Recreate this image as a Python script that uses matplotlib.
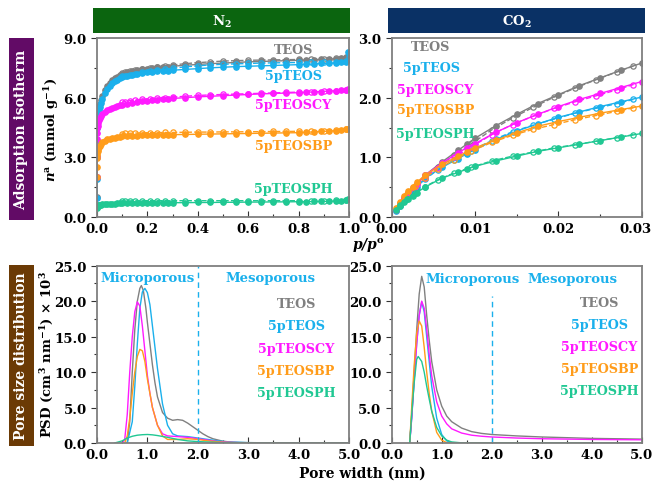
import matplotlib
matplotlib.use("Agg")
import matplotlib.pyplot as plt
from matplotlib.patches import Rectangle
from matplotlib.ticker import MultipleLocator, FormatStrFormatter, FuncFormatter

plt.rcParams['font.family'] = 'DejaVu Serif'
plt.rcParams['font.weight'] = 'bold'
plt.rcParams['mathtext.fontset'] = 'dejavuserif'

names = ['TEOS', '5pTEOS', '5pTEOSCY', '5pTEOSBP', '5pTEOSPH']
colors = ['#808080', '#1ab0ec', '#ff1aff', '#ff9c1a', '#20c893']

# ---- N2 isotherms (77 K) ----
n2_p_ads = [0.00001, 0.00003, 0.0001, 0.0003, 0.001, 0.002, 0.004, 0.007, 0.01, 0.015,
            0.02, 0.03, 0.04, 0.05, 0.06, 0.07, 0.08, 0.09, 0.10, 0.12,
            0.14, 0.16, 0.18, 0.20, 0.22, 0.24, 0.26, 0.28, 0.30, 0.35,
            0.40, 0.45, 0.50, 0.55, 0.60, 0.65, 0.70, 0.75, 0.80, 0.83,
            0.86, 0.89, 0.92, 0.95, 0.97, 0.99, 0.995]
n2_ads = {
    'TEOS': [1.0, 2.0, 3.0, 3.8, 4.6, 5.0, 5.3, 5.55, 5.7, 5.9, 6.1, 6.4, 6.6, 6.75, 6.87,
             6.97, 7.05, 7.12, 7.18, 7.27, 7.34, 7.39, 7.43, 7.46, 7.49, 7.52, 7.54, 7.56,
             7.58, 7.63, 7.67, 7.71, 7.74, 7.77, 7.8, 7.82, 7.84, 7.86, 7.88, 7.9, 7.91,
             7.92, 7.94, 7.96, 7.98, 8.0, 8.08],
    '5pTEOS': [0.95, 1.9, 3.0, 3.7, 4.5, 4.9, 5.2, 5.4, 5.55, 5.75, 5.95, 6.25, 6.45, 6.6,
               6.72, 6.82, 6.9, 6.97, 7.03, 7.1, 7.16, 7.2, 7.24, 7.27, 7.3, 7.32, 7.34, 7.36,
               7.38, 7.42, 7.46, 7.5, 7.53, 7.56, 7.58, 7.6, 7.62, 7.64, 7.66, 7.68, 7.7,
               7.72, 7.73, 7.75, 7.77, 7.8, 8.3],
    '5pTEOSCY': [2.0, 3.0, 3.9, 4.2, 4.45, 4.6, 4.75, 4.9, 5.0, 5.1, 5.18, 5.3, 5.38, 5.44,
                 5.5, 5.54, 5.58, 5.62, 5.65, 5.7, 5.74, 5.78, 5.81, 5.84, 5.87, 5.9, 5.92,
                 5.94, 5.96, 6.0, 6.04, 6.07, 6.1, 6.13, 6.16, 6.19, 6.21, 6.23, 6.25, 6.27,
                 6.29, 6.31, 6.33, 6.35, 6.37, 6.4, 6.43],
    '5pTEOSBP': [2.0, 2.5, 2.97, 3.1, 3.2, 3.3, 3.4, 3.5, 3.58, 3.68, 3.75, 3.84, 3.9, 3.94,
                 3.97, 3.99, 4.01, 4.03, 4.05, 4.07, 4.08, 4.09, 4.1, 4.11, 4.12, 4.12, 4.13,
                 4.13, 4.14, 4.15, 4.16, 4.17, 4.18, 4.19, 4.2, 4.21, 4.22, 4.23, 4.24, 4.26,
                 4.28, 4.3, 4.32, 4.34, 4.36, 4.4, 4.43],
    '5pTEOSPH': [0.45, 0.5, 0.5, 0.52, 0.54, 0.56, 0.58, 0.6, 0.61, 0.62, 0.63, 0.64, 0.65,
                 0.66, 0.67, 0.67, 0.68, 0.68, 0.68, 0.69, 0.69, 0.7, 0.7, 0.7, 0.71, 0.71,
                 0.71, 0.72, 0.72, 0.72, 0.73, 0.73, 0.74, 0.74, 0.75, 0.75, 0.76, 0.76, 0.77,
                 0.77, 0.78, 0.78, 0.79, 0.8, 0.81, 0.84, 0.88],
}
n2_p_des = [0.99, 0.95, 0.90, 0.85, 0.80, 0.75, 0.70, 0.65, 0.60, 0.55, 0.50, 0.45,
            0.40, 0.35, 0.30, 0.27, 0.24, 0.21, 0.18, 0.15, 0.13, 0.11, 0.10]
n2_des = {
    'TEOS': [8.02, 7.98, 7.95, 7.93, 7.92, 7.91, 7.9, 7.89, 7.88, 7.86, 7.84, 7.8, 7.76,
             7.71, 7.64, 7.6, 7.55, 7.5, 7.45, 7.38, 7.33, 7.27, 7.23],
    '5pTEOS': [7.82, 7.8, 7.79, 7.78, 7.77, 7.76, 7.75, 7.74, 7.72, 7.7, 7.68, 7.65, 7.6,
               7.55, 7.48, 7.44, 7.39, 7.34, 7.28, 7.2, 7.15, 7.1, 7.07],
    '5pTEOSCY': [6.4, 6.35, 6.32, 6.3, 6.28, 6.26, 6.24, 6.22, 6.2, 6.18, 6.16, 6.14, 6.11,
                 6.07, 6.03, 6.0, 5.98, 5.95, 5.92, 5.88, 5.85, 5.8, 5.78],
    '5pTEOSBP': [4.4, 4.36, 4.33, 4.32, 4.31, 4.3, 4.3, 4.29, 4.29, 4.28, 4.28, 4.27, 4.27,
                 4.26, 4.25, 4.25, 4.24, 4.24, 4.23, 4.22, 4.21, 4.2, 4.19],
    '5pTEOSPH': [0.85, 0.83, 0.82, 0.82, 0.82, 0.82, 0.82, 0.82, 0.82, 0.82, 0.82, 0.82,
                 0.82, 0.82, 0.82, 0.82, 0.82, 0.82, 0.82, 0.81, 0.81, 0.81, 0.8],
}

# ---- CO2 isotherms (273 K) ----
co2_p_ads = [0.0005, 0.001, 0.0015, 0.002, 0.0025, 0.003, 0.004, 0.006, 0.008, 0.009,
             0.010, 0.0125, 0.015, 0.0175, 0.020, 0.0225, 0.025, 0.0275, 0.030]
co2_ads = {
    'TEOS': [0.12, 0.22, 0.32, 0.40, 0.48, 0.55, 0.70, 0.92, 1.12, 1.22, 1.32, 1.53, 1.72,
             1.90, 2.05, 2.20, 2.33, 2.46, 2.58],
    '5pTEOS': [0.10, 0.18, 0.27, 0.35, 0.43, 0.50, 0.65, 0.83, 0.98, 1.06, 1.13, 1.30, 1.44,
               1.56, 1.67, 1.76, 1.85, 1.93, 2.01],
    '5pTEOSCY': [0.12, 0.22, 0.32, 0.40, 0.48, 0.55, 0.70, 0.90, 1.08, 1.16, 1.23, 1.42, 1.58,
                 1.72, 1.85, 1.97, 2.07, 2.17, 2.27],
    '5pTEOSBP': [0.15, 0.25, 0.35, 0.43, 0.51, 0.58, 0.70, 0.88, 1.02, 1.09, 1.16, 1.29, 1.41,
                 1.52, 1.60, 1.67, 1.74, 1.80, 1.86],
    '5pTEOSPH': [0.12, 0.18, 0.25, 0.31, 0.36, 0.41, 0.50, 0.65, 0.75, 0.80, 0.85, 0.94, 1.02,
                 1.10, 1.16, 1.22, 1.28, 1.34, 1.40],
}
co2_p_des = [0.029, 0.027, 0.0245, 0.022, 0.0195, 0.017, 0.0145, 0.012, 0.0095, 0.0075,
             0.0055, 0.004, 0.0028, 0.0018, 0.001]
co2_des = {
    'TEOS': [2.53, 2.43, 2.30, 2.16, 2.01, 1.84, 1.66, 1.46, 1.22, 1.04, 0.84, 0.66, 0.51, 0.36, 0.22],
    '5pTEOS': [1.97, 1.90, 1.82, 1.74, 1.64, 1.54, 1.43, 1.28, 1.11, 0.96, 0.79, 0.63, 0.49, 0.35, 0.20],
    '5pTEOSCY': [2.22, 2.13, 2.03, 1.93, 1.82, 1.69, 1.55, 1.38, 1.17, 1.00, 0.82, 0.66, 0.50, 0.36, 0.22],
    '5pTEOSBP': [1.83, 1.77, 1.70, 1.63, 1.55, 1.47, 1.37, 1.25, 1.10, 0.96, 0.80, 0.66, 0.52, 0.38, 0.24],
    '5pTEOSPH': [1.38, 1.33, 1.27, 1.21, 1.16, 1.09, 1.02, 0.94, 0.83, 0.74, 0.62, 0.51, 0.41, 0.31, 0.20],
}

# ---- PSD from N2 ----
n2_psd = {
    'TEOS': ([0.6, 0.65, 0.7, 0.75, 0.8, 0.85, 0.88, 0.92, 0.97, 1.0, 1.05, 1.1, 1.15, 1.2, 1.3,
              1.4, 1.5, 1.6, 1.7, 1.8, 1.9, 2.0, 2.1, 2.2, 2.3, 2.5, 2.7, 3.0, 4.0, 5.0],
             [0.0, 3.0, 10.0, 16.0, 20.0, 21.8, 22.2, 21.5, 19.0, 17.0, 14.0, 11.0, 8.5, 6.5, 4.3,
              3.5, 3.2, 3.3, 3.2, 2.8, 2.3, 1.8, 1.3, 0.9, 0.6, 0.25, 0.1, 0.05, 0.0, 0.0]),
    '5pTEOS': ([0.6, 0.7, 0.75, 0.8, 0.85, 0.9, 0.95, 1.0, 1.05, 1.1, 1.15, 1.2, 1.3, 1.4, 1.5,
                1.6, 1.8, 2.0, 2.2, 2.4, 2.6, 3.0, 4.0, 5.0],
               [0.0, 3.0, 8.0, 14.0, 19.0, 21.3, 21.8, 21.2, 19.5, 16.5, 13.5, 10.5, 5.5, 2.5, 1.3,
                1.0, 0.9, 0.7, 0.5, 0.3, 0.15, 0.05, 0.0, 0.0]),
    '5pTEOSCY': ([0.5, 0.55, 0.6, 0.65, 0.7, 0.75, 0.8, 0.85, 0.9, 0.95, 1.0, 1.05, 1.1, 1.2,
                  1.3, 1.4, 1.6, 1.8, 2.0, 2.2, 2.4, 2.6, 3.0, 5.0],
                 [0.0, 0.5, 4.0, 10.0, 15.0, 18.5, 19.9, 19.3, 16.5, 13.0, 9.5, 7.0, 5.0, 2.5,
                  1.3, 1.0, 0.9, 0.8, 0.6, 0.4, 0.2, 0.1, 0.0, 0.0]),
    '5pTEOSBP': ([0.55, 0.6, 0.65, 0.7, 0.75, 0.8, 0.85, 0.9, 0.95, 1.0, 1.05, 1.1, 1.2, 1.3,
                  1.4, 1.6, 1.8, 2.0, 2.2, 2.5, 3.0, 5.0],
                 [0.0, 1.0, 3.5, 7.0, 10.0, 12.2, 13.2, 13.0, 11.5, 9.0, 7.0, 5.0, 2.5, 1.0,
                  0.5, 0.5, 0.6, 0.5, 0.3, 0.1, 0.0, 0.0]),
    '5pTEOSPH': ([0.35, 0.5, 0.6, 0.7, 0.8, 0.9, 1.0, 1.1, 1.2, 1.4, 1.6, 1.8, 2.0, 2.5, 3.0, 5.0],
                 [0.0, 0.3, 0.7, 0.95, 1.1, 1.17, 1.2, 1.15, 1.05, 0.8, 0.5, 0.3, 0.2, 0.05, 0.0, 0.0]),
}

# ---- PSD from CO2 ----
co2_psd = {
    'TEOS': ([0.36, 0.4, 0.45, 0.5, 0.55, 0.6, 0.65, 0.7, 0.75, 0.8, 0.9, 1.0, 1.1, 1.2, 1.4,
              1.6, 1.8, 2.0, 2.5, 3.0, 3.5, 4.0, 4.5, 5.0],
             [0.0, 4.0, 10.0, 16.0, 21.0, 23.5, 22.0, 18.0, 14.5, 11.5, 7.5, 5.2, 3.8, 3.0, 2.1,
              1.6, 1.35, 1.2, 1.0, 0.85, 0.75, 0.65, 0.6, 0.55]),
    '5pTEOS': ([0.36, 0.4, 0.45, 0.5, 0.55, 0.6, 0.65, 0.7, 0.75, 0.8, 0.9, 1.0, 1.1, 1.2, 1.4, 5.0],
               [0.0, 3.5, 9.0, 14.0, 18.0, 19.9, 18.5, 15.0, 11.5, 8.0, 3.5, 1.2, 0.3, 0.05, 0.0, 0.0]),
    '5pTEOSCY': ([0.36, 0.4, 0.45, 0.5, 0.55, 0.6, 0.65, 0.7, 0.75, 0.8, 0.9, 1.0, 1.1, 1.2, 1.4,
                  1.6, 1.8, 2.0, 2.5, 3.0, 4.0, 5.0],
                 [0.0, 3.5, 9.0, 14.0, 18.0, 20.0, 19.0, 16.0, 12.5, 9.5, 5.8, 3.8, 2.7, 2.0, 1.4,
                  1.1, 0.95, 0.85, 0.7, 0.6, 0.5, 0.45]),
    '5pTEOSBP': ([0.36, 0.4, 0.45, 0.5, 0.55, 0.6, 0.65, 0.7, 0.75, 0.8, 0.9, 1.0, 1.1, 1.2, 5.0],
                 [0.0, 5.0, 11.0, 15.5, 17.2, 16.5, 13.5, 10.0, 7.0, 4.5, 1.5, 0.4, 0.05, 0.0, 0.0]),
    '5pTEOSPH': ([0.36, 0.4, 0.45, 0.5, 0.53, 0.6, 0.65, 0.7, 0.75, 0.8, 0.9, 1.0, 1.1, 1.2, 1.4, 1.5, 5.0],
                 [0.0, 4.0, 8.5, 11.8, 12.2, 11.5, 10.0, 8.0, 6.2, 4.5, 2.2, 1.0, 0.4, 0.15, 0.02, 0.0, 0.0]),
}

W, H = 654, 485
fig = plt.figure(figsize=(W / 100, H / 100), dpi=100)


def box(x0, y0, x1, y1):
    return [x0 / W, 1 - y1 / H, (x1 - x0) / W, (y1 - y0) / H]


ax1 = fig.add_axes(box(97, 39, 349, 218))
ax2 = fig.add_axes(box(391.7, 39, 641.7, 218))
ax3 = fig.add_axes(box(97, 266.7, 349, 444))
ax4 = fig.add_axes(box(391.7, 266.7, 641.7, 444))

for ax in (ax1, ax2, ax3, ax4):
    for s in ax.spines.values():
        s.set_color('#7f7f7f')
        s.set_linewidth(1.3)
    ax.tick_params(axis='both', which='both', labelsize=9.5, color='#333333', width=0.8)
    ax.tick_params(axis='y', which='major', direction='out', length=4)
    ax.tick_params(axis='y', which='minor', direction='out', length=2.5)
    ax.tick_params(axis='x', which='major', direction='in', length=4)
    ax.tick_params(axis='x', which='minor', direction='in', length=2.5)

# header bars and side boxes
fig.add_artist(Rectangle((93 / W, 1 - 34 / H), 257 / W, 25 / H, transform=fig.transFigure,
                         facecolor='#0b650f', edgecolor='none'))
fig.text(221.5 / W, 1 - 21.5 / H, r'N$_\mathbf{2}$', color='white', fontsize=9.5,
         ha='center', va='center', fontweight='bold')
fig.add_artist(Rectangle((388 / W, 1 - 34 / H), 257 / W, 25 / H, transform=fig.transFigure,
                         facecolor='#0a3165', edgecolor='none'))
fig.text(516.5 / W, 1 - 21.5 / H, r'CO$_\mathbf{2}$', color='white', fontsize=9.5,
         ha='center', va='center', fontweight='bold')
fig.add_artist(Rectangle((9 / W, 1 - 221 / H), 25 / W, 182 / H, transform=fig.transFigure,
                         facecolor='#620b66', edgecolor='none'))
fig.text(21.5 / W, 1 - 130 / H, 'Adsorption isotherm', color='white', fontsize=10,
         rotation=90, ha='center', va='center', fontweight='bold')
fig.add_artist(Rectangle((9 / W, 1 - 447 / H), 25 / W, 181 / H, transform=fig.transFigure,
                         facecolor='#6b3a05', edgecolor='none'))
fig.text(21.5 / W, 1 - 356.5 / H, 'Pore size distribution', color='white', fontsize=10,
         rotation=90, ha='center', va='center', fontweight='bold')

fig.text(52 / W, 1 - 130 / H, r'$\mathbfit{n}^\mathbf{a}$ (mmol g$^{\mathbf{-1}}$)',
         fontsize=9.5, rotation=90, ha='center', va='center', fontweight='bold')
fig.text(47 / W, 1 - 355 / H, r'PSD (cm$^\mathbf{3}$ nm$^{\mathbf{-1}}$) × 10$^\mathbf{3}$',
         fontsize=9.5, rotation=90, ha='center', va='center', fontweight='bold')
fig.text(368 / W, 1 - 246 / H, r'$\mathbfit{p/p}^\mathbf{o}$', fontsize=10,
         ha='center', va='center')
fig.text(362 / W, 1 - 474 / H, 'Pore width (nm)', fontsize=10,
         ha='center', va='center', fontweight='bold')

# N2 isotherms
for n, c in zip(names, colors):
    ax1.plot(n2_p_ads, n2_ads[n], '-o', color=c, lw=1.0, ms=3.8, mfc=c, mec=c)
    ax1.plot(n2_p_des, n2_des[n], '--o', color=c, lw=1.0, ms=3.8, mfc='none', mec=c, mew=0.9)
ax1.set_xlim(0, 1.0)
ax1.set_ylim(0, 9.0)
ax1.xaxis.set_major_locator(MultipleLocator(0.2))
ax1.xaxis.set_minor_locator(MultipleLocator(0.1))
ax1.yaxis.set_major_locator(MultipleLocator(3.0))
ax1.yaxis.set_minor_locator(MultipleLocator(1.5))
ax1.xaxis.set_major_formatter(FormatStrFormatter('%.1f'))
ax1.yaxis.set_major_formatter(FormatStrFormatter('%.1f'))
for (n, c, y) in zip(names, colors, [0.935, 0.79, 0.63, 0.40, 0.16]):
    ax1.text(0.78, y, n, color=c, transform=ax1.transAxes, ha='center', va='center',
             fontsize=9.2, fontweight='bold')

# CO2 isotherms
for n, c in zip(names, colors):
    ax2.plot(co2_p_ads, co2_ads[n], '-o', color=c, lw=1.0, ms=3.8, mfc=c, mec=c)
    ax2.plot(co2_p_des, co2_des[n], '--o', color=c, lw=1.0, ms=3.8, mfc='none', mec=c, mew=0.9)
ax2.set_xlim(0, 0.03)
ax2.set_ylim(0, 3.0)
ax2.xaxis.set_major_locator(MultipleLocator(0.01))
ax2.xaxis.set_minor_locator(MultipleLocator(0.005))
ax2.yaxis.set_major_locator(MultipleLocator(1.0))
ax2.yaxis.set_minor_locator(MultipleLocator(0.5))
# last label (0.03) is drawn separately, nudged left so it stays inside the figure
ax2.xaxis.set_major_formatter(FuncFormatter(lambda v, pos: '' if v > 0.0295 else '%.2f' % v))
ax2.annotate('0.03', xy=(0.03, 0), xycoords=('data', 'axes fraction'), xytext=(-4.5, -3.5),
             textcoords='offset points', ha='center', va='top', fontsize=9.5,
             fontweight='bold')
ax2.yaxis.set_major_formatter(FormatStrFormatter('%.1f'))
for (n, c, x, y) in zip(names, colors, [0.075, 0.047, 0.022, 0.022, 0.018],
                        [0.955, 0.835, 0.715, 0.60, 0.465]):
    ax2.text(x, y, n, color=c, transform=ax2.transAxes, ha='left', va='center',
             fontsize=9.2, fontweight='bold')

# PSD panels
for ax, psd, ytop in ((ax3, n2_psd, 25.0), (ax4, co2_psd, 20.7)):
    for n, c in zip(names, colors):
        ax.plot(psd[n][0], psd[n][1], '-', color=c, lw=1.0)
    ax.plot([2.0, 2.0], [0, ytop], '--', color='#1ab0ec', lw=1.0, dashes=(4, 3))
    ax.set_xlim(0, 5.0)
    ax.set_ylim(0, 25.0)
    ax.xaxis.set_major_locator(MultipleLocator(1.0))
    ax.xaxis.set_minor_locator(MultipleLocator(0.5))
    ax.yaxis.set_major_locator(MultipleLocator(5.0))
    ax.yaxis.set_minor_locator(MultipleLocator(2.5))
    ax.xaxis.set_major_formatter(FormatStrFormatter('%.1f'))
    ax.yaxis.set_major_formatter(FormatStrFormatter('%.1f'))

ax3.text(0.2, 0.935, 'Microporous', color='#1ab0ec', transform=ax3.transAxes,
         ha='center', va='center', fontsize=9.5, fontweight='bold')
ax3.text(0.69, 0.935, 'Mesoporous', color='#1ab0ec', transform=ax3.transAxes,
         ha='center', va='center', fontsize=9.5, fontweight='bold')
ax4.text(0.325, 0.93, 'Microporous', color='#1ab0ec', transform=ax4.transAxes,
         ha='center', va='center', fontsize=9.5, fontweight='bold')
ax4.text(0.725, 0.93, 'Mesoporous', color='#1ab0ec', transform=ax4.transAxes,
         ha='center', va='center', fontsize=9.5, fontweight='bold')
for (n, c, y) in zip(names, colors, [0.785, 0.66, 0.535, 0.41, 0.285]):
    ax3.text(0.79, y, n, color=c, transform=ax3.transAxes, ha='center', va='center',
             fontsize=9.2, fontweight='bold')
    ax4.text(0.83, y + 0.01, n, color=c, transform=ax4.transAxes, ha='center', va='center',
             fontsize=9.2, fontweight='bold')

fig.savefig('out.png', dpi=100)
